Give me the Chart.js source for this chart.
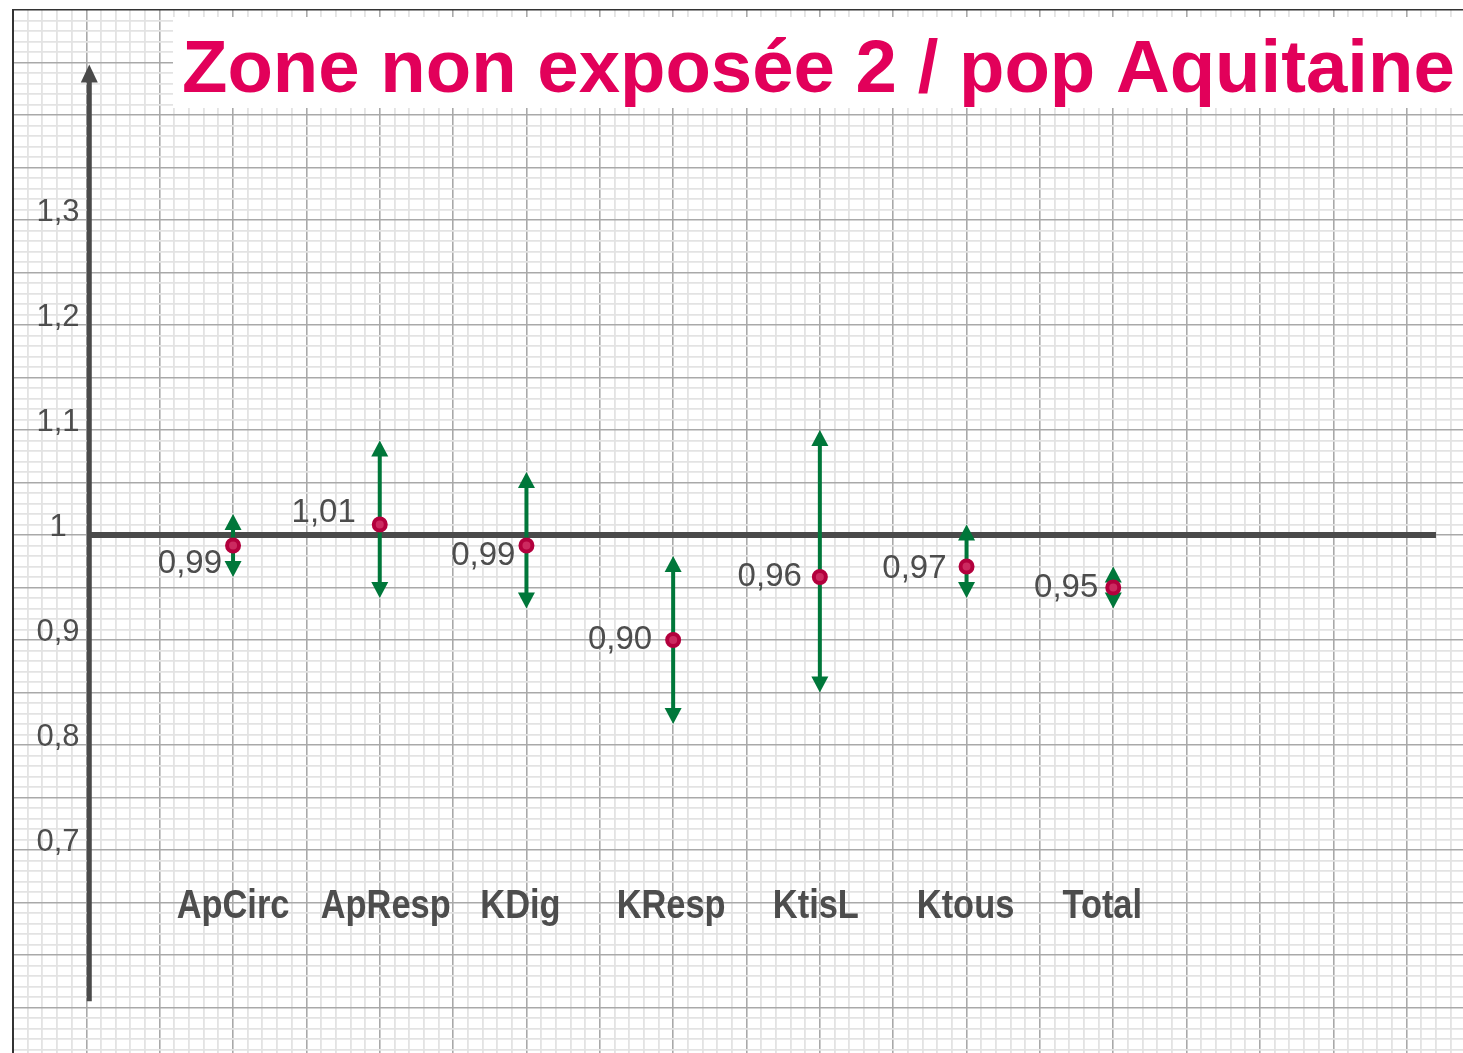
<!DOCTYPE html>
<html lang="fr">
<head>
<meta charset="utf-8">
<title>Zone non exposée 2 / pop Aquitaine</title>
<script src="https://cdn.jsdelivr.net/npm/chart.js@4/dist/chart.umd.min.js"></script>
<style>
  html, body { margin: 0; padding: 0; background: #fff; overflow: hidden; }
  #chart { display: block; }
</style>
</head>
<body>
<canvas id="chart" width="1490" height="1070"></canvas>
<script>
// Données du graphique
const categories = ['ApCirc', 'ApResp', 'KDig', 'KResp', 'KtisL', 'Ktous', 'Total'];
const ratios = [0.99, 1.01, 0.99, 0.90, 0.96, 0.97, 0.95];
const lowerBounds = [0.96, 0.94, 0.93, 0.82, 0.85, 0.94, 0.93];
const upperBounds = [1.02, 1.09, 1.06, 0.98, 1.10, 1.01, 0.97];
const yTickValues = [1.3, 1.2, 1.1, 1, 0.9, 0.8, 0.7];
const yTickLabels = ['1,3', '1,2', '1,1', '1', '0,9', '0,8', '0,7'];
const referenceValue = 1;
const titleText = 'Zone non exposée 2 / pop Aquitaine';

// Axe vertical dessiné (position en unités des échelles)
const axisX = -0.98;
const axisBottom = 0.556;
const axisTop = 1.448;
const refLineEnd = 8.2;

// Décalages des étiquettes (pixels)
const valueLabelDx = [-11, -24, -11, -21, -18, -20, -15];
const valueLabelDy = [18, -12, 10, 0, 0, 2, 0];
const categoryDx = [0, 6, -6, -2, -4, -1, -11];

// Couleurs
const GRIS = '#4a4a4a';
const VERT = '#00773a';
const ROUGE = '#e2005a';

// Pointe de flèche (dir = -1 vers le haut, 1 vers le bas)
function drawArrowHead(ctx, x, yTip, dir, w, h) {
  ctx.beginPath();
  ctx.moveTo(x, yTip);
  ctx.lineTo(x - w / 2, yTip - dir * h);
  ctx.lineTo(x + w / 2, yTip - dir * h);
  ctx.closePath();
  ctx.fill();
}

// Couleur / épaisseur du quadrillage
function gridColor(step, major, edge) {
  return function(c) {
    const v = Math.round(c.tick.value / step);
    if (edge !== undefined && Math.abs(c.tick.value - edge) < 1e-6) return '#333';
    return v % major === 0 ? '#a9a9a9' : '#e3e3e3';
  };
}

function gridWidth(step, major) {
  return function(c) {
    const v = Math.round(c.tick.value / step);
    return v % major === 0 ? 1.6 : 1.8;
  };
}

const papierPlugin = {
  id: 'papier',
  beforeDraw(chart) {
    const ctx = chart.ctx;
    ctx.save();
    ctx.fillStyle = '#fff';
    ctx.fillRect(0, 0, chart.width, chart.height);
    ctx.restore();
  },
  beforeDatasetsDraw(chart) {
    const ctx = chart.ctx;
    const xs = chart.scales.x;
    const ys = chart.scales.y;
    ctx.save();

    // Cadre blanc du titre
    ctx.fillStyle = '#fff';
    ctx.fillRect(173, 17, chart.width - 173, 91);

    // Titre
    let size = 80;
    ctx.font = 'bold ' + size + 'px "Liberation Sans", Arial, sans-serif';
    const w = ctx.measureText(titleText).width;
    size = size * 1273 / w;
    ctx.font = 'bold ' + size + 'px "Liberation Sans", Arial, sans-serif';
    ctx.fillStyle = ROUGE;
    ctx.textAlign = 'left';
    ctx.textBaseline = 'alphabetic';
    ctx.fillText(titleText, 182, 92);

    // Axe vertical avec flèche
    const ax = xs.getPixelForValue(axisX);
    const yTop = ys.getPixelForValue(axisTop);
    ctx.strokeStyle = GRIS;
    ctx.fillStyle = GRIS;
    ctx.lineWidth = 5;
    ctx.beginPath();
    ctx.moveTo(ax, ys.getPixelForValue(axisBottom));
    ctx.lineTo(ax, yTop + 10);
    ctx.stroke();
    drawArrowHead(ctx, ax, yTop, -1, 17, 18);

    // Ligne de référence à 1
    const yRef = ys.getPixelForValue(referenceValue);
    ctx.lineWidth = 6;
    ctx.beginPath();
    ctx.moveTo(ax, yRef);
    ctx.lineTo(xs.getPixelForValue(refLineEnd), yRef);
    ctx.stroke();

    // Graduations de l'axe
    ctx.font = '31px "Liberation Sans", Arial, sans-serif';
    ctx.fillStyle = '#4d4d4d';
    ctx.textAlign = 'center';
    ctx.textBaseline = 'alphabetic';
    yTickValues.forEach((v, i) => {
      ctx.fillText(yTickLabels[i], 58, ys.getPixelForValue(v) + 1);
    });

    // Intervalles de confiance
    ctx.strokeStyle = VERT;
    ctx.fillStyle = VERT;
    ctx.lineWidth = 4;
    categories.forEach((cat, i) => {
      const x = xs.getPixelForValue(i);
      const yHi = ys.getPixelForValue(upperBounds[i]);
      const yLo = ys.getPixelForValue(lowerBounds[i]);
      ctx.beginPath();
      ctx.moveTo(x, yHi + 8);
      ctx.lineTo(x, yLo - 8);
      ctx.stroke();
      drawArrowHead(ctx, x, yHi, -1, 17, 16);
      drawArrowHead(ctx, x, yLo, 1, 17, 16);
    });

    ctx.restore();
  },
  afterDatasetsDraw(chart) {
    const ctx = chart.ctx;
    const xs = chart.scales.x;
    const ys = chart.scales.y;
    ctx.save();

    // Valeurs des ratios
    ctx.font = '33px "Liberation Sans", Arial, sans-serif';
    ctx.fillStyle = '#4d4d4d';
    ctx.textAlign = 'right';
    ctx.textBaseline = 'middle';
    ratios.forEach((v, i) => {
      const label = v.toFixed(2).replace('.', ',');
      ctx.fillText(label, xs.getPixelForValue(i) + valueLabelDx[i], ys.getPixelForValue(v) + valueLabelDy[i]);
    });

    // Noms des catégories (police condensée)
    ctx.font = 'bold 40px "Liberation Sans", Arial, sans-serif';
    ctx.textAlign = 'center';
    ctx.textBaseline = 'middle';
    categories.forEach((cat, i) => {
      const x = xs.getPixelForValue(i) + categoryDx[i];
      ctx.save();
      ctx.translate(x, 907);
      ctx.scale(0.86, 1);
      ctx.fillText(cat, 0, 0);
      ctx.restore();
    });

    ctx.restore();
  }
};

const ctx = document.getElementById('chart').getContext('2d');

const chart = new Chart(ctx, {
  type: 'scatter',
  data: {
    datasets: [{
      label: 'Ratio',
      data: categories.map((c, i) => ({ x: i, y: ratios[i] })),
      pointRadius: 6,
      pointBorderWidth: 4,
      pointBackgroundColor: '#cc2a60',
      pointBorderColor: '#b3003d',
      pointHoverRadius: 6
    }]
  },
  options: {
    responsive: false,
    animation: false,
    layout: { padding: { left: 13, top: 10, right: 0, bottom: 0 } },
    plugins: {
      legend: { display: false },
      tooltip: { enabled: false }
    },
    scales: {
      x: {
        type: 'linear',
        min: -1.5,
        max: 8.5,
        ticks: { display: false, stepSize: 0.1 },
        grid: { drawTicks: false, color: gridColor(0.1, 5), lineWidth: gridWidth(0.1, 5) },
        border: { display: true, color: '#333', width: 2 }
      },
      y: {
        min: 0.5,
        max: 1.5,
        ticks: { display: false, stepSize: 0.01 },
        grid: { drawTicks: false, color: gridColor(0.01, 5, 1.5), lineWidth: gridWidth(0.01, 5) },
        border: { display: true, color: '#333', width: 2 }
      }
    }
  },
  plugins: [papierPlugin]
});
</script>
</body>
</html>
